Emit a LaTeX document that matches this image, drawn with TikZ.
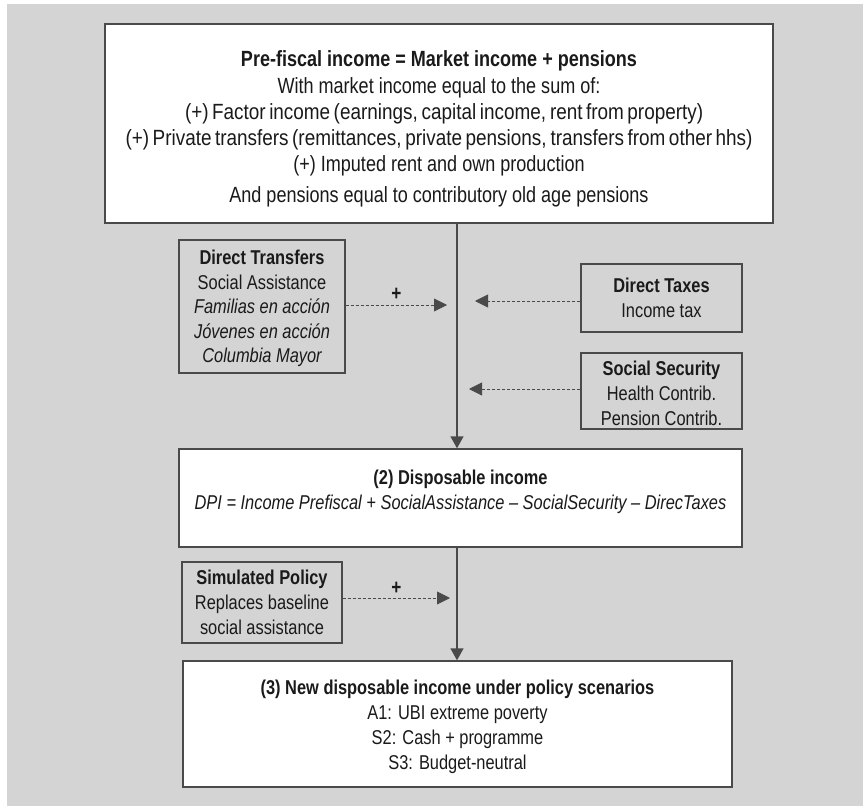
\documentclass[tikz,border=0pt]{standalone}
\usepackage{fontspec}
\setmainfont{Liberation Sans}[FakeStretch=0.82]
\newfontfamily\wideA{Liberation Sans}[FakeStretch=0.86]
\usetikzlibrary{arrows.meta}
\definecolor{bg}{HTML}{D4D4D4}
\definecolor{edge}{HTML}{4A4A4A}
\definecolor{ink}{HTML}{1A1A1A}
\begin{document}
\begin{tikzpicture}[x=1pt,y=-1pt,
  box/.style={draw=edge, line width=1.4pt, fill=white, inner sep=0pt, align=center,
    font=\fontsize{20}{25}\selectfont, text=ink},
  sidebox/.style={box, fill=bg, line width=1.2pt},
  flow/.style={draw=edge, line width=1.4pt, -{Triangle[length=12pt,width=13pt]}},
  feed/.style={draw=edge, line width=0.9pt, dash pattern=on 3pt off 2pt,
    -{Triangle[length=13pt,width=13pt]}},
  plus/.style={font=\fontsize{21}{24}\selectfont\bfseries, text=ink, inner sep=1pt}
]
\useasboundingbox (0,0) rectangle (863,806);
\fill[bg] (7,4) rectangle (863,806);

\node[box, minimum width=668pt, minimum height=199pt, font=\fontsize{22}{26.2}\selectfont] (top) at (439,123.5)
  {\mbox{}\\
   {\bfseries Pre-fiscal income = Market income + pensions}\\[1pt]
   With market income equal to the sum of:\\
   \makebox[508pt][s]{\wideA (+) Factor income (earnings, capital income, rent from property)}\\
   \makebox[627pt][s]{\wideA (+) Private transfers (remittances, private pensions, transfers from other hhs)}\\
   (+) Imputed rent and own production\\[4.5pt]
   And pensions equal to contributory old age pensions};

\node[sidebox, minimum width=166pt, minimum height=133pt, font=\fontsize{20}{24.5}\selectfont] (dtr) at (262,306.5)
  {\mbox{}\\[-6pt]
   {\bfseries Direct Transfers}\\
   Social Assistance\\
   {\itshape Familias en acción}\\
   {\itshape Jóvenes en acción}\\
   {\itshape Columbia Mayor}};

\node[sidebox, minimum width=161pt, minimum height=68pt] (dtx) at (661.5,298)
  {{\bfseries Direct Taxes}\\ Income tax};

\node[sidebox, minimum width=161pt, minimum height=76pt] (ss) at (661.5,391)
  {\mbox{}\\[-6pt]
   {\bfseries Social Security}\\ Health Contrib.\\ Pension Contrib.};

\node[box, minimum width=563pt, minimum height=98pt] (disp) at (460.5,498)
  {{\bfseries (2) Disposable income}\\
   {\itshape DPI = Income Prefiscal + SocialAssistance – SocialSecurity – DirecTaxes}\\[-8pt]\mbox{}};

\node[sidebox, minimum width=160pt, minimum height=81pt] (sim) at (262,602.5)
  {{\bfseries Simulated Policy}\\ Replaces baseline\\ social assistance};

\node[box, minimum width=549pt, minimum height=126pt] (final) at (457.5,724)
  {\mbox{}\\[-4pt]
   {\bfseries (3) New disposable income under policy scenarios}\\
   A1: UBI extreme poverty\\
   S2: Cash + programme\\
   S3: Budget-neutral};

\coordinate (spine) at (457,0);
\coordinate (dtrEnd) at (447,305);
\coordinate (taxEnd) at (475,301);
\coordinate (ssEnd) at (469,389);
\coordinate (simEnd) at (450,598);

\draw[flow] (top.south -| spine) -- (disp.north -| spine);
\draw[flow] (disp.south -| spine) -- (final.north -| spine);

\draw[feed] (dtr.east |- dtrEnd) -- node[plus, above=3pt] {+} (dtrEnd);
\draw[feed] (dtx.west |- taxEnd) -- (taxEnd);
\draw[feed] (ss.west |- ssEnd) -- (ssEnd);
\draw[feed] (sim.east |- simEnd) -- node[plus, above=2pt] {+} (simEnd);
\end{tikzpicture}
\end{document}
